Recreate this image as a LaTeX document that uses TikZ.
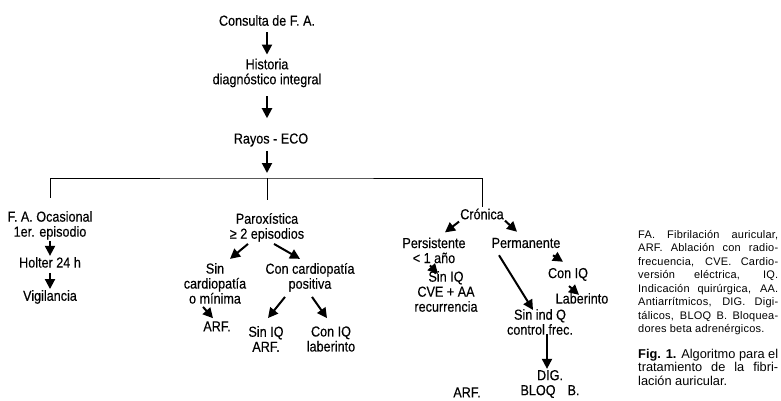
\documentclass[tikz,border=0pt]{standalone}
\usepackage{fontspec}
\setmainfont{Liberation Sans}
\newfontfamily\diagfont[FakeStretch=0.87,FakeBold=0.3]{Liberation Sans}
\newfontfamily\notefont[LetterSpace=2]{Liberation Sans}
\usetikzlibrary{arrows.meta}

\begin{document}
\begin{tikzpicture}[x=1pt,y=-1pt,
  every node/.style={font=\diagfont\fontsize{14.5}{15}\selectfont, align=center, inner sep=1pt},
  flecha/.style={line width=2pt, -{Triangle[length=10pt,width=10pt]}},
  nota/.style={font=\notefont\fontsize{11}{13.45}\selectfont, text width=140pt, align=justify, inner sep=0pt, anchor=base west}]
  \useasboundingbox (0,0) rectangle (781,401);
  % Draw trunk (Consulta, Historia, Rayos)
  \node (cons) at (267,20.5) {Consulta de F. A.};
  \node (hist) at (267,73) {Historia\\diagnóstico integral};
  \node (rayos) at (271,140) {Rayos - ECO};
  \coordinate (bar) at (267,178);
  \draw[flecha, shorten <=5pt, shorten >=3pt] (cons) -- (hist);
  \draw[flecha, shorten <=8pt, shorten >=14pt] (hist) -- (hist |- rayos.north);
  \draw[flecha, shorten <=3pt, shorten >=5pt] (rayos.south -| bar) -- (bar);
  % Draw left branch (ocasional)
  \node (ocas) at (50,225.4) {F. A. Ocasional\\1er. episodio};
  \node (holter) at (50,262.4) {Holter 24 h};
  \node (vig) at (50,297) {Vigilancia};
  \draw[flecha] (ocas) -- (holter);
  \draw[flecha, shorten <=4pt] (holter) -- (vig);
  % Draw middle branch (paroxistica)
  \node (parox) at (267,227.4) {Paroxística\\≥ 2 episodios};
  \node (sincard) at (215,283.4) {Sin\\cardiopatía\\o mínima};
  \node (concard) at (310,277.4) {Con cardiopatía\\positiva};
  \node (arfa) at (217,326.4) {ARF.};
  \node (siniqa) at (266,339) {Sin IQ\\ARF.};
  \node (coniqa) at (331,339) {Con IQ\\laberinto};
  \draw[flecha] ([shift={(-19,1)}]parox.south) -- ([shift={(15,-3)}]sincard.north);
  \draw[flecha] ([shift={(7,1)}]parox.south) -- ([shift={(-10,-3)}]concard.north);
  \draw[flecha] ([shift={(-12,2)}]sincard.south) -- ([shift={(-4,-2)}]arfa.north);
  \draw[flecha] ([shift={(-25,4)}]concard.south) -- ([shift={(2,-7)}]siniqa.north);
  \draw[flecha] ([shift={(2,4)}]concard.south) -- ([shift={(-4,-7)}]coniqa.north);
  % Draw right branch (cronica)
  \node (cron) at (482,214) {Crónica};
  \node (pers) at (434,250.4) {Persistente\\< 1 año};
  \node (perm) at (526,243) {Permanente};
  \node (siniqb) at (446,291.5) {Sin IQ\\CVE + AA\\recurrencia};
  \node (coniqb) at (568,274.4) {Con IQ};
  \node (lab) at (582,298.4) {Laberinto};
  \node (sinind) at (540,322) {Sin ind Q\\control frec.};
  \node (digbloq) at (550,384) {DIG.\\BLOQ\hspace{12pt}B.};
  \node (arfb) at (467,392.4) {ARF.};
  \draw[flecha] ([shift={(0,1)}]cron.south west) -- ([shift={(11,-4)}]pers.north);
  \draw[flecha] (cron.south east) -- ([shift={(-9,-5)}]perm.north);
  \draw[flecha] ([shift={(-4,1)}]pers.south) -- ([shift={(-8,4)}]siniqb.north);
  \draw[flecha] ([shift={(-27,6)}]perm.south) -- ([shift={(-7,2)}]sinind.north);
  \draw[flecha] ([shift={(27,6)}]perm.south) -- ([shift={(-5,-5)}]coniqb.north);
  \draw[flecha] ([shift={(1,4)}]coniqb.south) -- ([shift={(-3,3)}]lab.north);
  \draw[flecha] ([shift={(7,-2)}]sinind.south) -- ([shift={(-3,0)}]digbloq.north);
  % Draw branching lines
  \draw[thick] ([shift={(0,-12)}]ocas.north) |- (bar) -| (cron.north);
  \draw[thick] (bar) -- ([shift={(0,-12)}]parox.north);
  % Legend and caption
  \node[nota] (leyenda) at (638,238.3) {FA. Fibrilación auricular,\linebreak ARF. Ablación con radio-\linebreak frecuencia, CVE. Cardio-\linebreak versión eléctrica, IQ.\linebreak Indicación quirúrgica, AA.\linebreak Antiarrítmicos, DIG. Digi-\linebreak tálicos, BLOQ B. Bloquea-\linebreak dores beta adrenérgicos.};
  \node[nota, font=\rmfamily\fontsize{12.8}{13.35}\selectfont] (pie) at (638,358.3) {\textbf{Fig. 1.} Algoritmo para el\linebreak tratamiento de la fibri-\linebreak lación auricular.};
\end{tikzpicture}
\end{document}
